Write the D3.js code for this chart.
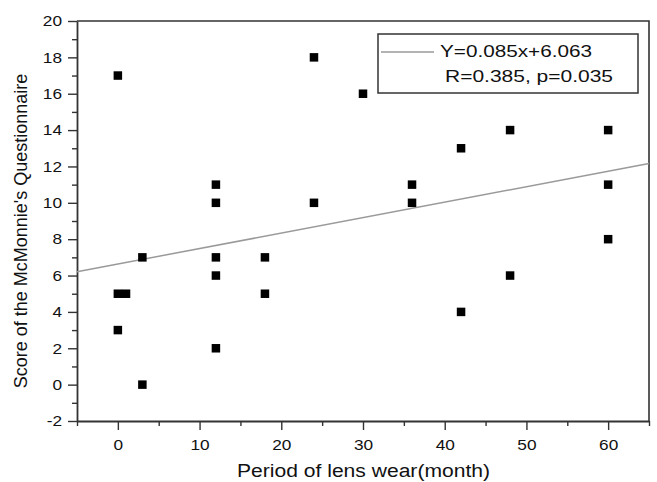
<!DOCTYPE html>
<html>
<head>
<meta charset="utf-8">
<script src="https://cdn.jsdelivr.net/npm/d3@7"></script>
<style>
  html, body { margin: 0; padding: 0; background: #fff; }
  svg { display: block; font-family: Arial, "Liberation Sans", sans-serif; }
</style>
</head>
<body>
<svg id="chart" width="657" height="482"></svg>
<script>
// lens wear (months) vs McMonnie score
const MONTHS = [0, 0, 1, 0, 3, 3, 12, 12, 12, 12, 12, 18, 18, 24, 24, 30, 36, 36, 42, 42, 48, 48, 60, 60, 60];
const SCORES = [17, 5, 5, 3, 7, 0, 11, 10, 7, 6, 2, 7, 5, 18, 10, 16, 11, 10, 13, 4, 14, 6, 14, 11, 8];

// fitted line as drawn in the figure (end points at the axis limits)
const FIT_X = [-5, 65];
const FIT_Y = [6.21, 12.16];

const X_TICKS = [0, 10, 20, 30, 40, 50, 60];
const Y_TICKS = [-2, 0, 2, 4, 6, 8, 10, 12, 14, 16, 18, 20];
const LEGEND_LINES = ["Y=0.085x+6.063", "R=0.385, p=0.035"];

const margin = { top: 21, right: 8, bottom: 61, left: 77 };
const width = 657, height = 482;
const innerW = width - margin.left - margin.right;
const innerH = height - margin.top - margin.bottom;

const svg = d3.select("#chart");
const g = svg.append("g").attr("transform", `translate(${margin.left},${margin.top})`);

const x = d3.scaleLinear().domain([-5, 65]).range([0, innerW]);
const y = d3.scaleLinear().domain([-2, 20]).range([innerH, 0]);

const axisColor = "#333";
// the original text is a bit wider than plain Arial
const stretch = 1.15;

// frame top + right
g.append("path")
  .attr("d", `M0,0H${innerW}V${innerH}`)
  .attr("fill", "none")
  .attr("stroke", axisColor)
  .attr("stroke-width", 1.6);

// minor ticks first, then major axes on top
const xMinor = d3.range(-5, 66, 10);
g.append("g")
  .attr("transform", `translate(0,${innerH})`)
  .call(d3.axisBottom(x).tickValues(xMinor).tickSize(5).tickFormat(""))
  .call(a => a.select(".domain").remove())
  .selectAll("line").attr("stroke", axisColor).attr("stroke-width", 1.4);

const yMinor = d3.range(-1, 20, 2);
g.append("g")
  .call(d3.axisLeft(y).tickValues(yMinor).tickSize(5).tickFormat(""))
  .call(a => a.select(".domain").remove())
  .selectAll("line").attr("stroke", axisColor).attr("stroke-width", 1.4);

const xAxis = g.append("g")
  .attr("transform", `translate(0,${innerH})`)
  .call(d3.axisBottom(x).tickValues(X_TICKS).tickSize(9).tickSizeOuter(0)
    .tickPadding(9).tickFormat(d => String(d)));

const yAxis = g.append("g")
  .call(d3.axisLeft(y).tickValues(Y_TICKS).tickSize(9).tickSizeOuter(0)
    .tickPadding(4).tickFormat(d => String(d)));

[xAxis, yAxis].forEach(a => {
  a.select(".domain").attr("stroke", axisColor).attr("stroke-width", 1.8);
  a.selectAll(".tick line").attr("stroke", axisColor).attr("stroke-width", 1.4);
  a.selectAll(".tick text")
    .attr("fill", "#111")
    .attr("transform", `scale(${stretch},1)`)
    .style("font-size", "15px")
    .style("font-family", "Arial, 'Liberation Sans', sans-serif");
});

// regression line
g.append("line")
  .attr("x1", x(FIT_X[0])).attr("y1", y(FIT_Y[0]))
  .attr("x2", x(FIT_X[1])).attr("y2", y(FIT_Y[1]))
  .attr("stroke", "#9a9a9a")
  .attr("stroke-width", 1.5);

// points
const pts = MONTHS.map((m, i) => ({ m, s: SCORES[i] }));
const sz = 8.5;
g.append("g").selectAll("rect")
  .data(pts)
  .join("rect")
  .attr("x", d => x(d.m) - sz / 2)
  .attr("y", d => y(d.s) - sz / 2)
  .attr("width", sz)
  .attr("height", sz)
  .attr("fill", "#000");

// legend
const legend = svg.append("g").attr("transform", "translate(378,34)");
legend.append("rect")
  .attr("width", 260).attr("height", 59)
  .attr("fill", "#fff")
  .attr("stroke", axisColor)
  .attr("stroke-width", 1.5);
legend.append("line")
  .attr("x1", 3).attr("x2", 56).attr("y1", 18).attr("y2", 18)
  .attr("stroke", "#9a9a9a").attr("stroke-width", 1.5);
const legendX = [62, 67];
const legendW = [152, 168];
legend.selectAll("text")
  .data(LEGEND_LINES)
  .join("text")
  .attr("x", (d, i) => legendX[i])
  .attr("y", (d, i) => 23 + i * 25)
  .attr("textLength", (d, i) => legendW[i])
  .attr("lengthAdjust", "spacingAndGlyphs")
  .attr("fill", "#111")
  .style("font-size", "16px")
  .text(d => d);

// axis titles
svg.append("text")
  .attr("x", 237)
  .attr("y", 477)
  .attr("textLength", 253)
  .attr("lengthAdjust", "spacingAndGlyphs")
  .attr("fill", "#111")
  .style("font-size", "18px")
  .text("Period of lens wear(month)");

svg.append("text")
  .attr("transform", "translate(27,231) rotate(-90)")
  .attr("text-anchor", "middle")
  .attr("fill", "#111")
  .style("font-size", "18px")
  .text("Score of the McMonnie's Questionnaire");
</script>
</body>
</html>
